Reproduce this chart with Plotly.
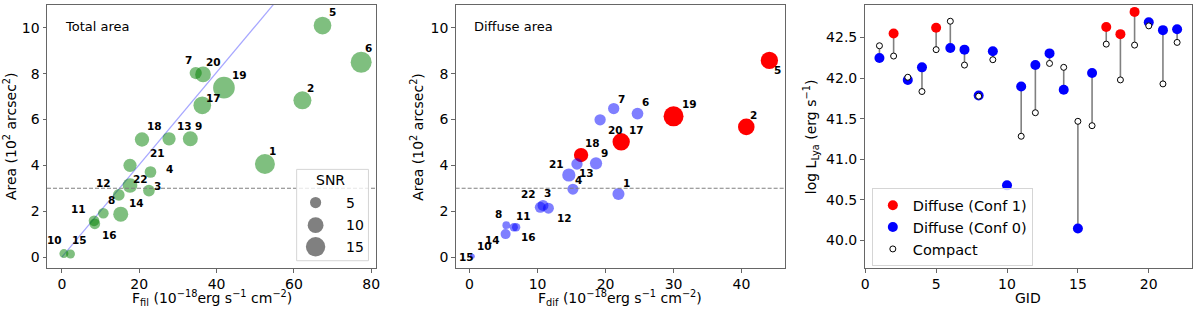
import numpy as np
import plotly.graph_objects as go

# ---------------- data ----------------
GID = list(range(1, 23))

# Panel 1: total area vs filament flux
F_FIL = [52.5, 62.2, 22.5, 22.9, 67.4, 77.4, 34.6, 10.7, 33.2, 0.5, 8.3,
         14.7, 27.7, 15.2, 2.2, 8.5, 36.3, 20.7, 41.9, 36.5, 17.6, 17.6]
AREA_TOT = [4.06, 6.84, 2.90, 3.71, 10.10, 8.50, 8.03, 1.91, 5.16, 0.15, 1.58,
            2.71, 5.16, 1.87, 0.13, 1.45, 6.62, 5.13, 7.39, 7.97, 4.00, 3.12]
SNR_TOT = [16, 13, 5.5, 5.5, 12.5, 17.6, 6, 4.6, 9, 3.2, 4.6,
           5.5, 7, 9, 3.2, 4.6, 12.5, 8.2, 18.8, 9.9, 7, 8.6]

# Panel 2: diffuse area vs diffuse flux
F_DIF = [21.9, 40.7, 10.8, 15.2, 44.1, 24.7, 21.2, 5.4, 18.6, 0.2, 6.5,
         11.6, 15.8, 5.3, 0.4, 6.85, 22.3, 16.4, 30.0, 19.2, 14.6, 10.4]
AREA_DIF = [2.75, 5.68, 2.25, 2.96, 8.58, 6.26, 6.48, 1.39, 4.09, 0.02, 1.30,
            2.13, 4.06, 1.00, 0.03, 1.30, 5.03, 4.45, 6.14, 5.99, 3.58, 2.17]
SNR_DIF = [5.8, 11, 4.8, 4.8, 12, 5.5, 5.1, 2.4, 6, 0.3, 2.8,
           4.8, 5.1, 4, 1, 2.8, 12, 8.2, 16, 5.1, 7, 4.8]
CONF = [0, 1, 0, 0, 1, 0, 0, 0, 0, 0, 0, 0, 0, 0, 0, 0, 1, 1, 1, 0, 0, 0]

# Panel 3: log L(Lya)
LOGL_DIF = [42.247, 42.549, 41.977, 42.132, 42.62, 42.37, 42.35, 41.785, 42.33,
            40.678, 41.895, 42.16, 42.304, 41.855, 40.147, 42.063, 42.63, 42.541,
            42.815, 42.688, 42.59, 42.602]
LOGL_CMP = [42.398, 42.271, 42.01, 41.834, 42.35, 42.70, 42.16, 41.777, 42.226,
            None, 41.283, 41.573, 42.18, 42.132, 41.467, 41.413, 42.418, 41.977,
            42.406, 42.643, 41.928, 42.439]

FIT_SLOPE = 0.2015
AREA_CUT = 3
SNR_KEYS = [5, 10, 15]

# ---------------- styling ----------------
FONT = "DejaVu Sans"
SIZE_C = 5.0  # diameter = SIZE_C * sqrt(SNR)

# label pixel offsets (dx right, dy up) for each GID
OFF_TOT = {1: (7.7, 13.3), 2: (8, 12.7), 3: (8.3, 5), 4: (18.7, 2.7), 5: (9.7, 13.3),
           6: (7.7, 14.3), 7: (-7.7, 12.7), 8: (7.7, 13.3), 9: (8.3, 12.7),
           10: (-9.7, 13.3), 11: (-15.7, 12), 12: (-15.7, 12.3), 13: (15.7, 12.7),
           14: (15.3, 11), 15: (9, 13.7), 16: (15, -11), 17: (11, 7.7),
           18: (12.3, 13.3), 19: (15.3, 12.3), 20: (10, 12.3), 21: (27.7, 12),
           22: (10, 6.7)}
OFF_DIF = {1: (7.7, 10.7), 2: (7.7, 11.7), 3: (4.3, 12.3), 4: (5.7, 8.7), 5: (8.3, -10),
           6: (7.7, 11.7), 7: (7.3, 10), 8: (-7.3, 11.3), 9: (8.3, 10.7),
           10: (14, 10.3), 11: (10, 11.3), 12: (15.7, -10), 13: (10, -9.3),
           14: (-12.7, -6.3), 15: (-5.7, -0.7), 16: (12.7, -10), 17: (15.7, 11.7),
           18: (11.3, 12.3), 19: (15.7, 12), 20: (15.7, -10.7), 21: (-12.3, 11),
           22: (-11.3, 13.3)}

W, H = 1200, 311
ML, MR, MT, MB = 47, 5, 4, 43
PW, PH = W - ML - MR, H - MT - MB


def px(xp):
    return (xp - ML) / PW


def py(yp):
    return 1 - (yp - MT) / PH


def diam(s):
    return SIZE_C * np.sqrt(np.asarray(s, dtype=float))


fig = go.Figure()

# ---- panel 1 ----
fig.add_trace(go.Scatter(
    x=[0, max(F_FIL)], y=[0, FIT_SLOPE * max(F_FIL)], mode="lines",
    line=dict(color="rgba(0,0,255,0.35)", width=1.2), xaxis="x", yaxis="y",
    showlegend=False, hoverinfo="skip"))
fig.add_trace(go.Scatter(
    x=F_FIL, y=AREA_TOT, mode="markers", xaxis="x", yaxis="y",
    marker=dict(size=diam(SNR_TOT), color="rgba(0,128,0,0.5)", opacity=1,
                line=dict(width=0)),
    showlegend=False))

# ---- panel 2 ----
red_idx = [i for i in range(22) if CONF[i] == 1]
blue_idx = [i for i in range(22) if CONF[i] == 0]
fig.add_trace(go.Scatter(
    x=[F_DIF[i] for i in red_idx], y=[AREA_DIF[i] for i in red_idx], mode="markers",
    xaxis="x2", yaxis="y2",
    marker=dict(size=diam([SNR_DIF[i] for i in red_idx]), color="rgb(255,0,0)",
                opacity=1, line=dict(width=0)), showlegend=False))
fig.add_trace(go.Scatter(
    x=[F_DIF[i] for i in blue_idx], y=[AREA_DIF[i] for i in blue_idx], mode="markers",
    xaxis="x2", yaxis="y2",
    marker=dict(size=diam([SNR_DIF[i] for i in blue_idx]), color="rgba(0,0,255,0.5)",
                opacity=1, line=dict(width=0)), showlegend=False))

# ---- panel 3 ----
lx, ly = [], []
for g, d, c in zip(GID, LOGL_DIF, LOGL_CMP):
    if c is not None:
        lx += [g, g, None]
        ly += [d, c, None]
fig.add_trace(go.Scatter(x=lx, y=ly, mode="lines", xaxis="x3", yaxis="y3",
                         line=dict(color="#808080", width=1.6), showlegend=False,
                         hoverinfo="skip"))
fig.add_trace(go.Scatter(
    x=[GID[i] for i in red_idx], y=[LOGL_DIF[i] for i in red_idx], mode="markers",
    xaxis="x3", yaxis="y3", name="Diffuse (Conf 1)", legendgroup="a",
    marker=dict(size=10, color="red", opacity=1, line=dict(width=0))))
fig.add_trace(go.Scatter(
    x=[GID[i] for i in blue_idx], y=[LOGL_DIF[i] for i in blue_idx], mode="markers",
    xaxis="x3", yaxis="y3", name="Diffuse (Conf 0)", legendgroup="b",
    marker=dict(size=10, color="blue", opacity=1, line=dict(width=0))))
cx = [g for g, c in zip(GID, LOGL_CMP) if c is not None]
cy = [c for c in LOGL_CMP if c is not None]
fig.add_trace(go.Scatter(
    x=cx, y=cy, mode="markers", xaxis="x3", yaxis="y3", name="Compact", legendgroup="c",
    marker=dict(size=6, color="white", opacity=1, line=dict(width=1, color="black"))))

# ---------------- annotations ----------------
ann = []
lab_font = dict(family=FONT, size=10.5, color="black")
for i, g in enumerate(GID):
    dx, dy = OFF_TOT[g]
    ann.append(dict(x=F_FIL[i], y=AREA_TOT[i], xref="x", yref="y", text=f"<b>{g}</b>",
                    showarrow=False, xshift=dx, yshift=dy, font=lab_font,
                    xanchor="center", yanchor="middle"))
    dx, dy = OFF_DIF[g]
    ann.append(dict(x=F_DIF[i], y=AREA_DIF[i], xref="x2", yref="y2", text=f"<b>{g}</b>",
                    showarrow=False, xshift=dx, yshift=dy, font=lab_font,
                    xanchor="center", yanchor="middle"))

tfont = dict(family=FONT, size=14, color="black")


def pann(xp, yp, text, font=tfont, xanchor="center", angle=0):
    return dict(x=px(xp), y=py(yp), xref="paper", yref="paper", text=text,
                showarrow=False, xanchor=xanchor, yanchor="middle", textangle=angle,
                font=font)


small = dict(family=FONT, size=13, color="black")
ann += [
    pann(63.3, 25.7, "Total area", small, "left"),
    pann(473.3, 25.7, "Diffuse area", small, "left"),
    pann(212, 298, "F<sub>fil</sub> (10<sup>\u221218</sup>erg s<sup>\u22121</sup> cm<sup>\u22122</sup>)"),
    pann(621.7, 298, "F<sub>dif</sub> (10<sup>\u221218</sup>erg s<sup>\u22121</sup> cm<sup>\u22122</sup>)"),
    pann(1030.8, 298, "GID"),
    pann(9.5, 136, "Area (10<sup>2</sup> arcsec<sup>2</sup>)", angle=-90),
    pann(417.3, 136, "Area (10<sup>2</sup> arcsec<sup>2</sup>)", angle=-90),
    pann(812.7, 136, "log L<sub>Lya</sub> (erg s<sup>\u22121</sup>)", angle=-90),
    pann(331.7, 180, "SNR"),
]

# SNR legend
key_y = [202.3, 225, 246.7]
shapes = [
    dict(type="line", xref="x domain", yref="y", x0=0, x1=1, y0=AREA_CUT, y1=AREA_CUT,
         line=dict(color="#808080", width=1.1, dash="4px,2px"), layer="above"),
    dict(type="line", xref="x2 domain", yref="y2", x0=0, x1=1, y0=AREA_CUT, y1=AREA_CUT,
         line=dict(color="#808080", width=1.1, dash="4px,2px"), layer="above"),
    dict(type="rect", xref="paper", yref="paper", x0=px(297.3), x1=px(369.3),
         y0=py(260.7), y1=py(169), line=dict(color="#d5d5d5", width=1),
         fillcolor="rgba(255,255,255,0.8)", layer="above"),
]
for k, yk in zip(SNR_KEYS, key_y):
    d = float(diam(k))
    shapes.append(dict(type="circle", xref="paper", yref="paper",
                       xsizemode="pixel", ysizemode="pixel",
                       xanchor=px(316.3), yanchor=py(yk),
                       x0=-d / 2, x1=d / 2, y0=-d / 2, y1=d / 2,
                       fillcolor="#808080", line=dict(width=0), layer="above"))
    ann.append(pann(345, yk, str(k), tfont, "left"))

axis_common = dict(showgrid=False, zeroline=False, showline=True, mirror=True,
                   linecolor="#666", linewidth=1, ticks="outside", ticklen=3.5,
                   tickwidth=1, tickcolor="#666",
                   tickfont=dict(family=FONT, size=14, color="black"))

fig.update_layout(
    width=W, height=H, margin=dict(l=ML, r=MR, t=MT, b=MB),
    paper_bgcolor="white", plot_bgcolor="white",
    font=dict(family=FONT, color="black"),
    xaxis=dict(domain=[0, px(377)], range=[-3.87, 81.27], dtick=20, anchor="y", **axis_common),
    yaxis=dict(domain=[0, 1], range=[-0.48, 11.0], dtick=2, anchor="x", **axis_common),
    xaxis2=dict(domain=[px(456.7), px(786.7)], range=[-2.05, 46.36], dtick=10, anchor="y2",
                **axis_common),
    yaxis2=dict(domain=[0, 1], range=[-0.48, 11.0], dtick=2, anchor="x2", **axis_common),
    xaxis3=dict(domain=[px(866.7), 1], range=[-0.05, 23.05], dtick=5, tick0=0, anchor="y3",
                **axis_common),
    yaxis3=dict(domain=[0, 1], range=[39.66, 42.9], dtick=0.5, tick0=40, tickformat=".1f",
                anchor="x3", **axis_common),
    legend=dict(x=px(874), y=py(188), xanchor="left", yanchor="top",
                bordercolor="#d5d5d5", borderwidth=1, bgcolor="rgba(255,255,255,0.8)",
                font=dict(family=FONT, size=14.5, color="black"),
                traceorder="grouped", tracegroupgap=0),
    annotations=ann, shapes=shapes,
)

fig.write_html("out.html", config={"displayModeBar": False},
               post_script="document.body.style.margin='0px';"
                           "document.body.style.overflow='hidden';")
